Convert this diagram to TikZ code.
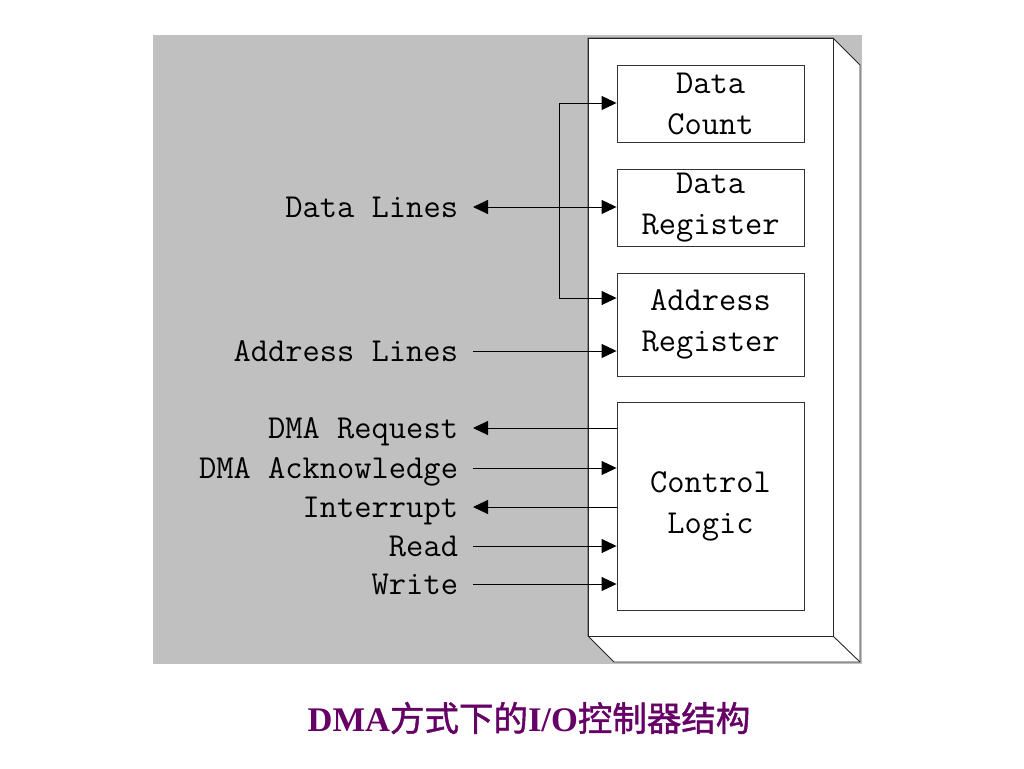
\documentclass[tikz,border=0pt]{standalone}
\usepackage{fontspec}
\newfontfamily\cjk[FakeBold=1.3]{Noto Sans CJK SC}
\newfontfamily\capserif{Liberation Serif}
\usetikzlibrary{arrows.meta}
\definecolor{bggray}{HTML}{C0C0C0}
\definecolor{cappurple}{HTML}{660066}
\begin{document}
\begin{tikzpicture}[x=1pt,y=-1pt,
  tip/.style={Triangle[length=15pt,width=14pt]},
  arr/.style={-{Triangle[length=15pt,width=14pt]}, line width=0.9pt},
  darr/.style={{Triangle[length=15pt,width=14pt]}-{Triangle[length=15pt,width=14pt]}, line width=0.9pt},
  box/.style={draw=black!80, line width=0.9pt, fill=white, align=center,
    font=\ttfamily\fontsize{33.5}{41}\selectfont, inner sep=0pt},
  lbl/.style={anchor=east, inner sep=0pt, outer xsep=15pt, text height=20pt, text depth=0pt,
    font=\ttfamily\fontsize{33.5}{41}\selectfont}]
\useasboundingbox (0,0) rectangle (1024,768);
\fill[white] (0,0) rectangle (1024,768);
% background
\fill[bggray] (153,35) rectangle (862,664);
% 3D box
\filldraw[fill=white, draw=black!85, line width=0.9pt]
  (588,38) -- (833,38) -- (860,65) -- (860,662) -- (614,662) -- (588,636) -- cycle;
\draw[black!85, line width=0.9pt] (588,38) rectangle (833,636);
\draw[black!85, line width=0.9pt] (833,636) -- (860,662);
% inner boxes
\node[box, minimum width=187pt, minimum height=77pt] (dc) at (710.5,103.5) {Data\\Count};
\node[box, minimum width=187pt, minimum height=77pt] (dr) at (710.5,207.5) {Data\\Register};
\node[box, minimum width=187pt, minimum height=103pt] (ar) at (710.5,324.5) {Address\\Register};
\node[box, minimum width=187pt, minimum height=208pt] (cl) at (710.5,506) {Control\\Logic};
% labels
\node[lbl] (dl) at (473,207) {Data Lines};
\node[lbl] (al) at (473,351) {Address Lines};
\node[lbl] (rq) at (473,428) {DMA Request};
\node[lbl] (ak) at (473,468) {DMA Acknowledge};
\node[lbl] (it) at (473,507) {Interrupt};
\node[lbl] (rd) at (473,546) {Read};
\node[lbl] (wr) at (473,584) {Write};
% data lines bracket
\coordinate (bt) at (559,103);
\coordinate (bb) at (559,298);
\draw[line width=0.9pt] (bt) -- (bb);
\draw[arr] (bt) -- (dc.west |- bt);
\draw[arr] (bb) -- (ar.west |- bb);
\draw[darr] (dl.east) -- (dr.west |- dl.east);
% address lines
\draw[arr] (al.east) -- (ar.west |- al.east);
% control lines
\draw[arr] (cl.west |- rq.east) -- (rq.east);
\draw[arr] (ak.east) -- (cl.west |- ak.east);
\draw[arr] (cl.west |- it.east) -- (it.east);
\draw[arr] (rd.east) -- (cl.west |- rd.east);
\draw[arr] (wr.east) -- (cl.west |- wr.east);
% caption
\node[text=cappurple, inner sep=0pt, font=\fontsize{34.5}{40}\selectfont] (cap) at (529,718)
  {{\capserif\bfseries DMA}{\cjk 方式下的}{\capserif\bfseries I/O}{\cjk 控制器结构}};
\end{tikzpicture}
\end{document}
